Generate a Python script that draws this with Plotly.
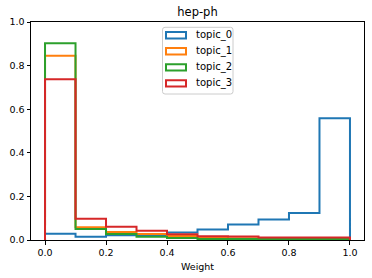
import plotly.graph_objects as go

# ---- data ----
bin_edges = [0.0, 0.1, 0.2, 0.3, 0.4, 0.5, 0.6, 0.7, 0.8, 0.9, 1.0]
topic_names = ["topic_0", "topic_1", "topic_2", "topic_3"]
topic_0 = [0.029, 0.015, 0.022, 0.023, 0.034, 0.048, 0.071, 0.094, 0.124, 0.558]
topic_1 = [0.845, 0.058, 0.037, 0.028, 0.018, 0.010, 0.008, 0.006, 0.006, 0.006]
topic_2 = [0.903, 0.051, 0.028, 0.015, 0.009, 0.005, 0.005, 0.005, 0.005, 0.005]
topic_3 = [0.737, 0.097, 0.061, 0.043, 0.026, 0.017, 0.016, 0.011, 0.011, 0.011]
x_ticks = [0.0, 0.2, 0.4, 0.6, 0.8, 1.0]
y_ticks = [0.0, 0.2, 0.4, 0.6, 0.8, 1.0]
title_text = "hep-ph"
x_label = "Weight"

colors = ["#1f77b4", "#ff7f0e", "#2ca02c", "#d62728"]
series = [topic_0, topic_1, topic_2, topic_3]

W, H = 372, 278
L, R, T, B = 31, 8, 22, 38
pw, ph = W - L - R, H - T - B
FONT = "DejaVu Sans"


def px_x(px):
    return (px - L) / pw


def px_y(py):
    return (H - B - py) / ph


fig = go.Figure()
for name, vals, col in zip(topic_names, series, colors):
    xs = [bin_edges[0]] + bin_edges[:-1] + [bin_edges[-1]]
    ys = [0] + list(vals) + [0]
    fig.add_trace(go.Scatter(
        x=xs, y=ys, mode="lines", name=name,
        line=dict(color=col, width=2, shape="hv"),
        showlegend=False, hoverinfo="skip",
    ))

# ---- legend (drawn like matplotlib's) ----
shapes = []
annotations = []
bx0, bx1, by0, by1 = 162.5, 233.0, 27.3, 94.0
r = 2.5
rx, ry = r / pw, r / ph
X0, X1, Y0, Y1 = px_x(bx0), px_x(bx1), px_y(by1), px_y(by0)
path = (f"M{X0+rx},{Y0} L{X1-rx},{Y0} Q{X1},{Y0} {X1},{Y0+ry} "
        f"L{X1},{Y1-ry} Q{X1},{Y1} {X1-rx},{Y1} L{X0+rx},{Y1} "
        f"Q{X0},{Y1} {X0},{Y1-ry} L{X0},{Y0+ry} Q{X0},{Y0} {X0+rx},{Y0} Z")
shapes.append(dict(type="path", xref="paper", yref="paper", path=path,
                   fillcolor="rgba(255,255,255,0.8)",
                   line=dict(color="#cccccc", width=1), layer="above"))
row_y = [35.2, 51.3, 67.4, 83.4]
for name, col, cy in zip(topic_names, colors, row_y):
    shapes.append(dict(type="rect", xref="paper", yref="paper",
                       x0=px_x(166), x1=px_x(186), y0=px_y(cy + 3.2), y1=px_y(cy - 3.2),
                       line=dict(color=col, width=2), fillcolor="rgba(0,0,0,0)",
                       layer="above"))
    annotations.append(dict(text=name, xref="paper", yref="paper",
                            x=px_x(193.5), y=px_y(cy), xanchor="left", yanchor="middle",
                            showarrow=False, font=dict(family=FONT, size=10, color="#000")))

annotations.append(dict(text=x_label, xref="paper", yref="paper",
                        x=0.5, y=px_y(266), xanchor="center", yanchor="middle",
                        showarrow=False, font=dict(family=FONT, size=9.5, color="#000")))

axis_common = dict(showline=True, linecolor="#000", linewidth=1, mirror=True,
                   ticks="outside", ticklen=3.5, tickwidth=1, tickcolor="#000",
                   showgrid=False, zeroline=False, tickformat=".1f",
                   tickfont=dict(family=FONT, size=9.5, color="#000"))

fig.update_layout(
    width=W, height=H,
    margin=dict(l=L, r=R, t=T, b=B, pad=0),
    paper_bgcolor="white", plot_bgcolor="white",
    title=dict(text=title_text, x=0.5, xref="paper", xanchor="center",
               y=1 - 12 / H, yref="container", yanchor="middle",
               font=dict(family=FONT, size=11.5, color="#000")),
    xaxis=dict(range=[-0.046, 1.046], tickvals=x_ticks, **axis_common),
    yaxis=dict(range=[0, 1], tickvals=y_ticks, **axis_common),
    shapes=shapes, annotations=annotations,
    showlegend=False,
)

fig.write_html("out.html", config={"displayModeBar": False},
               post_script="document.body.style.margin='0';")
